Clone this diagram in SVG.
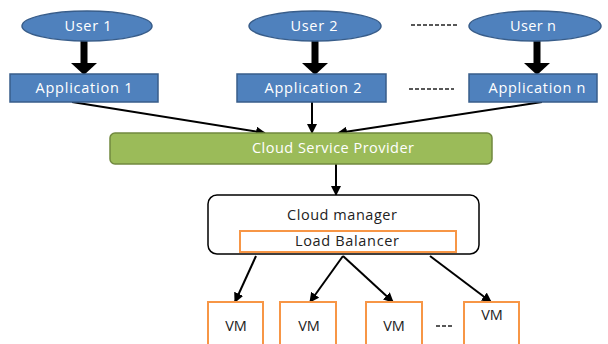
<svg xmlns="http://www.w3.org/2000/svg" width="608" height="344" viewBox="0 0 608 344">
<style>
.user{fill:#4F81BD;stroke:#385D8A;stroke-width:1.5}
.app{fill:#4F81BD;stroke:#385D8A;stroke-width:1.5}
.csp{fill:#9BBB59;stroke:#71893F;stroke-width:1.5}
.mgr{fill:#FFFFFF;stroke:#000000;stroke-width:1.5}
.lb{fill:#FFFFFF;stroke:#F79646;stroke-width:2}
.vm{fill:#FFFFFF;stroke:#F79646;stroke-width:2}
.wt{font-family:"Open Sans","Liberation Sans",sans-serif;font-size:14.5px;fill:#FFFFFF;text-anchor:middle}
.dk{font-family:"Open Sans","Liberation Sans",sans-serif;font-size:14.5px;fill:#222222;text-anchor:middle}
.fat{stroke:#000;stroke-width:7;fill:none}
.thin{stroke:#000;stroke-width:2;fill:none}
.dash{stroke:#222;stroke-width:1.5;stroke-dasharray:4 2;fill:none}
</style>
<defs>
<marker id="fatHead" markerUnits="userSpaceOnUse" markerWidth="12" markerHeight="26" refX="1" refY="13" orient="auto" viewBox="0 0 12 26">
<path d="M0,0 L12,13 L0,26 Z" fill="#000"/>
</marker>
<marker id="thinHead" markerUnits="userSpaceOnUse" markerWidth="10" markerHeight="10" refX="9" refY="5" orient="auto" viewBox="0 0 10 10">
<path d="M0,0 L10,5 L0,10 Z" fill="#000"/>
</marker>
</defs>
<rect width="608" height="344" fill="#FFFFFF"/>

<g id="connectors">
<line class="fat" x1="84" y1="40" x2="84" y2="64" marker-end="url(#fatHead)"/>
<line class="fat" x1="315" y1="40" x2="315" y2="64" marker-end="url(#fatHead)"/>
<line class="fat" x1="537" y1="40" x2="537" y2="64" marker-end="url(#fatHead)"/>
<line class="thin" x1="72" y1="102" x2="265" y2="133" marker-end="url(#thinHead)"/>
<line class="thin" x1="312" y1="102" x2="312" y2="133" marker-end="url(#thinHead)"/>
<line class="thin" x1="542" y1="102" x2="338" y2="133" marker-end="url(#thinHead)"/>
<line class="thin" x1="336" y1="164" x2="336" y2="195" marker-end="url(#thinHead)"/>
<line class="thin" x1="256" y1="256" x2="235" y2="302" marker-end="url(#thinHead)"/>
<line class="thin" x1="343" y1="256" x2="310" y2="302" marker-end="url(#thinHead)"/>
<line class="thin" x1="343" y1="256" x2="393" y2="302" marker-end="url(#thinHead)"/>
<line class="thin" x1="430" y1="256" x2="491" y2="302" marker-end="url(#thinHead)"/>
</g>

<g id="dots">
<line class="dash" x1="411" y1="25" x2="457" y2="25"/>
<line class="dash" x1="409" y1="89" x2="454" y2="89"/>
<line class="dash" x1="436" y1="326" x2="454" y2="326"/>
</g>

<g id="user1"><ellipse class="user" cx="87" cy="26" rx="65" ry="15"/><text class="wt" x="88" y="31" textLength="47" lengthAdjust="spacing">User 1</text></g>
<g id="user2"><ellipse class="user" cx="315" cy="26" rx="66" ry="15"/><text class="wt" x="314" y="31" textLength="47" lengthAdjust="spacing">User 2</text></g>
<g id="usern"><ellipse class="user" cx="535" cy="26" rx="66" ry="15"/><text class="wt" x="533" y="31" textLength="46" lengthAdjust="spacing">User n</text></g>

<g id="app1"><rect class="app" x="10" y="74" width="148" height="28"/><text class="wt" x="84" y="93" textLength="97" lengthAdjust="spacing">Application 1</text></g>
<g id="app2"><rect class="app" x="237" y="74" width="149" height="28"/><text class="wt" x="313" y="93" textLength="97" lengthAdjust="spacing">Application 2</text></g>
<g id="appn"><rect class="app" x="469" y="74" width="128" height="28"/><text class="wt" x="537" y="93" textLength="97" lengthAdjust="spacing">Application n</text></g>

<g id="csp"><rect class="csp" x="110" y="133" width="382" height="31" rx="5"/><text class="wt" x="333" y="153" textLength="162" lengthAdjust="spacing">Cloud Service Provider</text></g>

<g id="manager"><rect class="mgr" x="208" y="195" width="271" height="59" rx="9"/><text class="dk" x="342" y="220" textLength="110" lengthAdjust="spacing">Cloud manager</text></g>
<g id="lb"><rect class="lb" x="240" y="231" width="216" height="21"/><text class="dk" x="347" y="246" textLength="104" lengthAdjust="spacing">Load Balancer</text></g>

<g id="vm1"><rect class="vm" x="208" y="302" width="55" height="50"/><text class="dk" x="236" y="331">VM</text></g>
<g id="vm2"><rect class="vm" x="280" y="302" width="56" height="50"/><text class="dk" x="309" y="331">VM</text></g>
<g id="vm3"><rect class="vm" x="366" y="302" width="56" height="50"/><text class="dk" x="394" y="331">VM</text></g>
<g id="vm4"><rect class="vm" x="464" y="302" width="55" height="50"/><text class="dk" x="492" y="320">VM</text></g>
</svg>
